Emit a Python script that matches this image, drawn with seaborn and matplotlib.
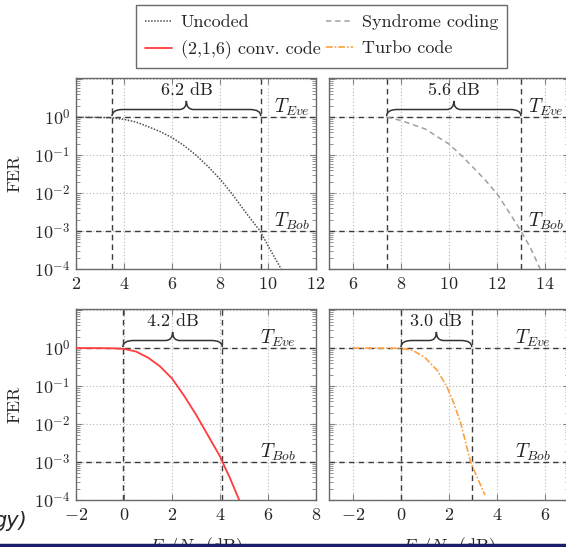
import numpy as np
import pandas as pd
import matplotlib
matplotlib.use("Agg")
import matplotlib.pyplot as plt
import seaborn as sns
from matplotlib.path import Path
from matplotlib.patches import PathPatch
from matplotlib import transforms
from matplotlib.ticker import FuncFormatter, MultipleLocator, LogLocator, NullFormatter
from matplotlib.lines import Line2D

# ---------------- data ----------------
uncoded_snr = [2, 3, 3.5, 4, 4.5, 5, 5.5, 6, 6.5, 7, 7.5, 8, 8.5, 9, 9.67, 10.1, 10.55]
uncoded_log_fer = [-0.002, -0.008, -0.02, -0.06, -0.13, -0.25, -0.38, -0.54, -0.75, -1.0,
                   -1.3, -1.63, -2.02, -2.45, -3.0, -3.5, -4.0]

syndrome_snr = [7.4, 8, 9, 10, 10.5, 11, 11.5, 12, 12.5, 13, 13.4, 13.8]
syndrome_log_fer = [0.0, -0.09, -0.31, -0.71, -1.0, -1.32, -1.65, -2.02, -2.5, -3.0, -3.45, -4.0]

conv_snr = [-2, -1, -0.5, 0, 0.5, 1, 1.5, 2, 2.5, 3, 3.5, 4, 4.1, 4.4, 4.8]
conv_log_fer = [0.0, 0.0, -0.005, -0.02, -0.09, -0.25, -0.48, -0.8, -1.25, -1.75, -2.3,
                -2.85, -3.0, -3.4, -4.0]

turbo_snr = [-2, -1, 0, 0.5, 1, 1.5, 1.9, 2.2, 2.5, 2.7, 2.9, 3.1, 3.5]
turbo_log_fer = [0.0, 0.0, -0.005, -0.06, -0.25, -0.58, -1.0, -1.45, -2.0, -2.5, -3.0, -3.3, -3.87]

series_labels = ["Uncoded", "(2,1,6) conv. code", "Syndrome coding", "Turbo code"]
gap_labels = ["6.2 dB", "5.6 dB", "4.2 dB", "3.0 dB"]
eve_snr = [3.5, 7.4, -0.05, 0.0]     # left threshold lines (T_Eve reached)
bob_snr = [9.7, 13.0, 4.1, 2.95]     # right threshold lines (T_Bob reached)
x_limits = [(2, 12), (5, 15), (-2, 8), (-3, 7)]
t_eve = 1e0
t_bob = 1e-3

# ---------------- style ----------------
sns.set_style("white")
plt.rcParams.update({
    "font.family": "cmr10",
    "mathtext.fontset": "cm",
    "axes.formatter.use_mathtext": True,
    "axes.unicode_minus": False,
    "font.size": 13,
})

W, H = 566, 547
fig = plt.figure(figsize=(W / 100, H / 100), dpi=100)

def fx(px):
    return px / W

def fy(py):
    return 1 - py / H

aw, ah = 240 / W, 191 / H
positions = [
    (fx(76), fy(269), aw, ah),
    (fx(329), fy(269), aw, ah),
    (fx(76), fy(500), aw, ah),
    (fx(329), fy(500), aw, ah),
]
axes = [fig.add_axes(p) for p in positions]

curves = [
    (uncoded_snr, uncoded_log_fer, "#505050", (0, (1, 1)), 1.1, series_labels[0]),
    (syndrome_snr, syndrome_log_fer, "#a0a0a0", (0, (3.5, 2.5)), 1.1, series_labels[2]),
    (conv_snr, conv_log_fer, "#ff3b3b", "-", 1.3, series_labels[1]),
    (turbo_snr, turbo_log_fer, "#ffa040", (0, (4, 1.2, 1, 1.2)), 1.2, series_labels[3]),
]

sub_x = [0.825, 0.828, 0.768, 0.774]
handles = {}

tick_fmt = FuncFormatter(lambda v, p: r"$%g$" % v)
log_fmt = FuncFormatter(lambda v, p: (r"$10^{%d}$" % round(np.log10(v))) if v < 5 else "")

for i, ax in enumerate(axes):
    xs, ly, col, ls, lw, lab = curves[i]
    df = pd.DataFrame({"snr": xs, "fer": 10 ** np.array(ly)})
    ax.set_yscale("log")
    sns.lineplot(data=df, x="snr", y="fer", ax=ax, color=col, linestyle=ls,
                 linewidth=lw, estimator=None, sort=False, label=lab, zorder=3)
    if ax.get_legend() is not None:
        ax.get_legend().remove()
    handles[lab] = Line2D([], [], color=col, linestyle=ls, linewidth=lw)

    ax.set_xlim(*x_limits[i])
    ax.set_ylim(1e-4, 10 ** 1.03)
    ax.xaxis.set_major_locator(MultipleLocator(2))
    ax.yaxis.set_major_locator(LogLocator(base=10, numticks=10))
    ax.yaxis.set_minor_locator(LogLocator(base=10, subs=np.arange(2, 10), numticks=20))
    ax.yaxis.set_minor_formatter(NullFormatter())
    ax.xaxis.set_major_formatter(tick_fmt)
    ax.yaxis.set_major_formatter(log_fmt)
    ax.grid(True, which="major", linestyle=(0, (1, 2)), color="#b5b5b5", linewidth=0.8)
    ax.tick_params(which="both", direction="in", bottom=True, left=True, top=True,
                   right=True, color="#808080", labelsize=13)
    ax.tick_params(which="major", length=4, width=0.8, pad=4)
    ax.tick_params(axis="x", which="major", pad=5)
    ax.tick_params(which="minor", length=3, width=0.6)
    for s in ax.spines.values():
        s.set_color("#6a6a6a")
        s.set_linewidth(1.0)
    if i in (1, 3):
        ax.tick_params(labelleft=False)
    ax.set_xlabel("")
    ax.set_ylabel("")
    if i in (0, 2):
        ax.set_ylabel("FER", fontsize=13)
        ax.yaxis.set_label_coords(-0.225, 0.5)
    if i in (2, 3):
        ax.set_xlabel(r"$E_b/N_0$ (dB)", fontsize=13)
        ax.xaxis.set_label_coords(0.5, -0.183)

    # threshold lines
    dash = (0, (4, 3))
    for yv in (t_eve, t_bob):
        ax.axhline(yv, color="#3c3c3c", linestyle=dash, linewidth=1.0, zorder=2)
    for xv in (eve_snr[i], bob_snr[i]):
        ax.axvline(xv, color="#3c3c3c", linestyle=dash, linewidth=1.0, zorder=2)

    # threshold labels
    tr = transforms.blended_transform_factory(ax.transAxes, ax.transData)
    ax.text(sub_x[i], t_eve * 1.3, r"$T_{Eve}$", transform=tr, fontsize=14,
            ha="left", va="baseline", color="#222222", zorder=4)
    ax.text(sub_x[i], t_bob * 1.3, r"$T_{Bob}$", transform=tr, fontsize=14,
            ha="left", va="baseline", color="#222222", zorder=4)

    # curly brace
    bt = transforms.blended_transform_factory(ax.transData, ax.transAxes)
    x0, x1 = eve_snr[i], bob_snr[i]
    xm = 0.5 * (x0 + x1)
    y0, ya, yt = 0.80, 0.835, 0.88
    r, rt = 0.45, 0.3
    verts = [(x0, y0), (x0, ya), (x0 + r, ya), (xm - rt, ya), (xm, ya), (xm, yt),
             (xm, ya), (xm + rt, ya), (x1 - r, ya), (x1, ya), (x1, y0)]
    codes = [Path.MOVETO, Path.CURVE3, Path.CURVE3, Path.LINETO, Path.CURVE3, Path.CURVE3,
             Path.CURVE3, Path.CURVE3, Path.LINETO, Path.CURVE3, Path.CURVE3]
    ax.add_patch(PathPatch(Path(verts, codes), transform=bt, facecolor="none",
                           edgecolor="#333333", linewidth=1.1, clip_on=False, zorder=5))
    ax.text(xm, 0.935, gap_labels[i], transform=bt, ha="center", va="center",
            fontsize=13, color="#222222")

order = series_labels
fig.legend([handles[k] for k in order], order, ncol=2, loc="upper center",
           bbox_to_anchor=(fx(321.5), fy(5)), frameon=True, fancybox=False,
           edgecolor="#6a6a6a", framealpha=1, fontsize=13, handlelength=1.5,
           handletextpad=0.5, columnspacing=0.3, labelspacing=0.6, borderpad=0.5,
           borderaxespad=0)

# slide remnants
fig.text(fx(-7), fy(527), "gy)", fontsize=15, style="italic",
         family="DejaVu Sans", va="baseline", ha="left")
fig.add_artist(Line2D([0, 1], [fy(545), fy(545)], transform=fig.transFigure,
                      color="#1c1c6e", linewidth=2.5))

fig.savefig("out.png", dpi=100)
